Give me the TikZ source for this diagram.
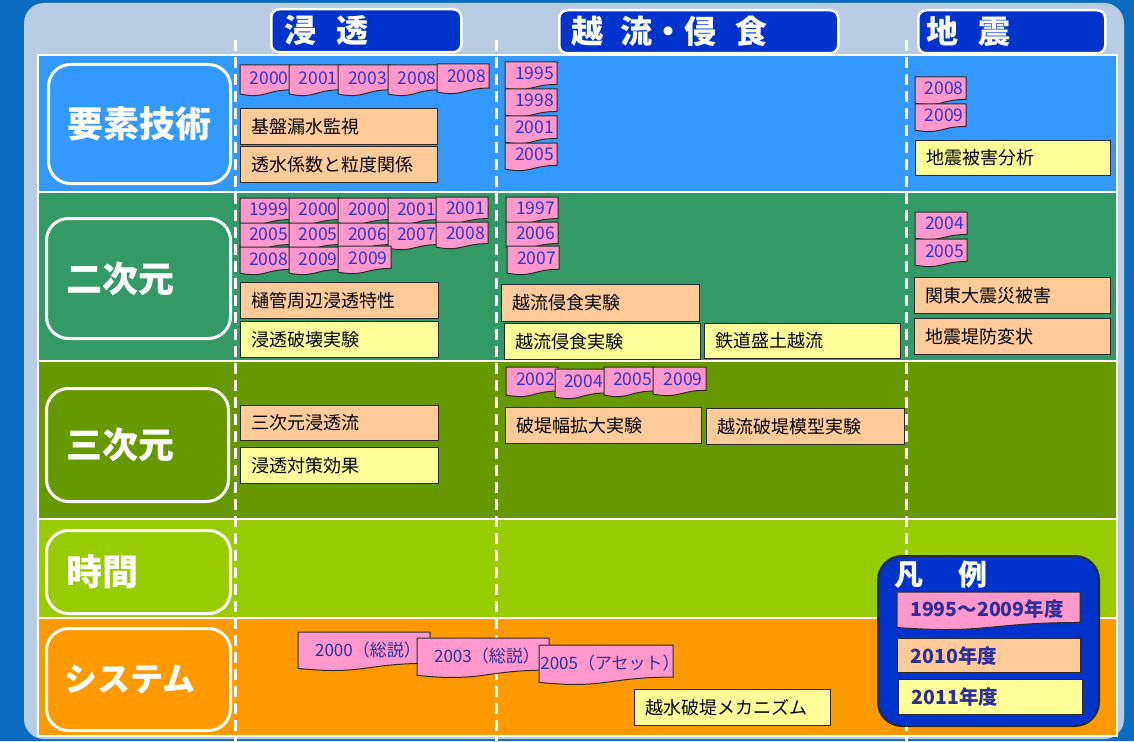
\documentclass[tikz,border=0pt]{standalone}
\usepackage{fontspec}
\setmainfont{Noto Sans CJK JP}
\definecolor{outerblue}{HTML}{0A6CC0}
\definecolor{panel}{HTML}{B8CCE4}
\definecolor{rowA}{HTML}{3399FF}
\definecolor{rowB}{HTML}{339966}
\definecolor{rowC}{HTML}{669900}
\definecolor{rowD}{HTML}{99CC00}
\definecolor{rowE}{HTML}{FF9900}
\definecolor{hdrblue}{HTML}{0033CC}
\definecolor{tagpink}{HTML}{FF99CC}
\definecolor{boxorange}{HTML}{FFCC99}
\definecolor{boxyellow}{HTML}{FFFF99}
\definecolor{boxline}{HTML}{2A2A2A}
\definecolor{tagblue}{HTML}{3333CC}
\definecolor{legtext}{HTML}{2E2E99}
\tikzset{
  rowfill/.style={draw=white, line width=1.2pt},
  hdr/.style={fill=hdrblue, draw=white, line width=2.5pt, rounded corners=8pt, text=white, font=\fontsize{32}{36}\selectfont\bfseries},
  lab/.style={draw=white, line width=3pt, rounded corners=22pt, text=white, font=\fontsize{36}{40}\selectfont\bfseries},
  labsmall/.style={lab, font=\fontsize{33}{36}\selectfont\bfseries},
  obox/.style={fill=boxorange, draw=boxline, line width=1.2pt, text=black, font=\fontsize{18}{20}\selectfont},
  ybox/.style={obox, fill=boxyellow},
  legobox/.style={obox, text=legtext, font=\fontsize{19.5}{22}\selectfont\bfseries},
  legybox/.style={legobox, fill=boxyellow},
  legbox/.style={fill=hdrblue, draw=boxline, line width=2pt, rounded corners=24pt},
  tagshape/.style={fill=tagpink, draw=boxline, line width=1pt},
  yeartext/.style={text=tagblue, font=\fontsize{17.5}{19}\selectfont, inner sep=0pt},
  systext/.style={text=legtext, font=\fontsize{17}{19}\selectfont, inner sep=0pt},
  legtag/.style={text=legtext, font=\fontsize{19.5}{22}\selectfont\bfseries, inner sep=0pt, anchor=west},
  divider/.style={draw=white, line width=3pt, dash pattern=on 11pt off 6pt},
}
% year tag: name, x1, y1, x2, y2, text
\newcommand\ytag[6]{%
  \path[tagshape] (#2,#3) -- (#4,#3) -- (#4,{#3+0.802*(#5-#3)})
    .. controls ({(#2+#4)/2},{#3+0.802*(#5-#3)}) and ({(#2+#4)/2},{#3+1.107*(#5-#3)}) .. (#2,{#3+0.934*(#5-#3)}) -- cycle;
  \node[yeartext] (#1) at ({#2+0.57*(#4-#2)},{#3+0.42*(#5-#3)}) {#6};}
\newcommand\stag[6]{%
  \path[tagshape] (#2,#3) -- (#4,#3) -- (#4,{#3+0.802*(#5-#3)})
    .. controls ({(#2+#4)/2},{#3+0.802*(#5-#3)}) and ({(#2+#4)/2},{#3+1.107*(#5-#3)}) .. (#2,{#3+0.934*(#5-#3)}) -- cycle;
  \node[systext] (#1) at ({#2+0.53*(#4-#2)},{#3+0.46*(#5-#3)}) {#6};}
% box: name, style, pad, x1, y1, x2, y2, text
\newcommand\tbox[8]{%
  \pgfmathsetmacro\mybw{#6-#4}\pgfmathsetmacro\mybh{#7-#5}\pgfmathsetmacro\mytw{#6-#4-2*#3}%
  \node[#2, anchor=north west, minimum width=\mybw pt, minimum height=\mybh pt, text width=\mytw pt, inner xsep=#3pt, inner ysep=0pt, align=left] (#1) at (#4,#5) {#8};}
\begin{document}
\begin{tikzpicture}[x=1pt, y=-1pt]
\useasboundingbox (0,0) rectangle (1134,741);
\fill[outerblue] (0,0) rectangle (1134,741);
\fill[panel, rounded corners=20pt] (24,3) rectangle (1124,739);
% rows
\draw[rowfill, fill=rowA] (38,55) rectangle (1117,192);
\draw[rowfill, fill=rowB] (38,192) rectangle (1117,361);
\draw[rowfill, fill=rowC] (38,361) rectangle (1117,519);
\draw[rowfill, fill=rowD] (38,519) rectangle (1117,618);
\draw[rowfill, fill=rowE] (38,618) rectangle (1117,736);
% dividers
\draw[divider] (235,40) -- (235,741);
\draw[divider] (496,40) -- (496,741);
\draw[divider] (906,40) -- (906,741);
% headers
\tbox{h1}{hdr}{13}{270}{8}{460}{51}{浸\hspace{20pt}透}
\tbox{h2}{hdr}{12}{558}{9}{837}{52}{越\hspace{17pt}流・侵\hspace{19pt}食}
\tbox{h3}{hdr}{8}{917}{9}{1104}{52}{地\hspace{20pt}震}
% row labels
\tbox{l1}{lab}{19}{47}{63}{229}{182}{要素技術}
\tbox{l2}{lab}{20}{45}{217}{229}{337}{二次元}
\tbox{l3}{lab}{20}{45}{387}{227}{500}{三次元}
\tbox{l4}{lab}{20}{45}{529}{229}{612}{時間}
\tbox{l5}{labsmall}{18}{45}{627}{229}{729}{システム}
% row 1
\ytag{a1}{240}{65}{291}{96}{2000}
\ytag{a2}{289}{65}{340}{96}{2001}
\ytag{a3}{338}{65}{390}{96}{2003}
\ytag{a4}{388}{65}{439}{96}{2008}
\ytag{a5}{437}{64}{489}{94}{2008}
\tbox{b11}{obox}{11}{240}{108}{437}{144}{基盤漏水監視}
\tbox{b12}{obox}{11}{240}{146}{437}{182}{透水係数と粒度関係}
\ytag{a6}{505}{62}{557}{90}{1995}
\ytag{a7}{505}{89}{557}{117}{1998}
\ytag{a8}{505}{116}{557}{144}{2001}
\ytag{a9}{505}{143}{557}{171}{2005}
\ytag{a10}{915}{77}{966}{105}{2008}
\ytag{a11}{915}{104}{966}{132}{2009}
\tbox{b13}{ybox}{11}{915}{140}{1110}{175}{地震被害分析}
% row 2
\ytag{c1}{240}{198}{290}{225}{1999}
\ytag{c2}{289}{198}{340}{225}{2000}
\ytag{c3}{338}{198}{390}{225}{2000}
\ytag{c4}{388}{198}{438}{225}{2001}
\ytag{c5}{436}{197}{488}{224}{2001}
\ytag{c6}{240}{223}{290}{250}{2005}
\ytag{c7}{289}{223}{340}{250}{2005}
\ytag{c8}{338}{223}{390}{250}{2006}
\ytag{c9}{388}{223}{438}{250}{2007}
\ytag{c10}{436}{222}{488}{249}{2008}
\ytag{c11}{240}{247}{290}{275}{2008}
\ytag{c12}{289}{247}{340}{275}{2009}
\ytag{c13}{338}{246}{391}{274}{2009}
\tbox{b21}{obox}{11}{240}{282}{438}{318}{樋管周辺浸透特性}
\tbox{b22}{ybox}{11}{240}{321}{438}{357}{浸透破壊実験}
\ytag{c14}{506}{197}{558}{224}{1997}
\ytag{c15}{506}{222}{558}{249}{2006}
\ytag{c16}{507}{246}{559}{275}{2007}
\tbox{b23}{obox}{11}{501}{284}{699}{321}{越流侵食実験}
\tbox{b24}{ybox}{11}{504}{323}{700}{359}{越流侵食実験}
\tbox{b25}{ybox}{11}{704}{323}{900}{358}{鉄道盛土越流}
\ytag{c17}{915}{212}{967}{240}{2004}
\ytag{c18}{915}{239}{967}{267}{2005}
\tbox{b26}{obox}{11}{914}{277}{1110}{313}{関東大震災被害}
\tbox{b27}{obox}{11}{914}{318}{1110}{354}{地震堤防変状}
% row 3
\tbox{b31}{obox}{11}{240}{405}{438}{440}{三次元浸透流}
\tbox{b32}{ybox}{11}{240}{447}{438}{483}{浸透対策効果}
\ytag{d1}{506}{367}{558}{397}{2002}
\ytag{d2}{555}{369}{605}{399}{2004}
\ytag{d3}{604}{367}{654}{397}{2005}
\ytag{d4}{653}{367}{706}{396}{2009}
\tbox{b33}{obox}{11}{505}{407}{701}{443}{破堤幅拡大実験}
\tbox{b34}{obox}{11}{706}{408}{904}{444}{越流破堤模型実験}
% row 5
\stag{e1}{298}{632}{430}{671}{2000（総説）}
\stag{e2}{417}{638}{549}{678}{2003（総説）}
\stag{e3}{539}{645}{673}{685}{2005（アセット）}
\tbox{b51}{ybox}{11}{634}{689}{830}{725}{越水破堤メカニズム}
% legend
\tbox{leg}{legbox}{0}{877}{555}{1098}{725}{}
\node[anchor=west, inner sep=0pt, text=white, font=\fontsize{29}{32}\selectfont\bfseries] (legt) at (894,575) {凡\hspace{35pt}例};
\path[tagshape] (897,592) -- (1080,592) -- (1080,{592+0.802*38})
  .. controls (988,{592+0.802*38}) and (988,{592+1.107*38}) .. (897,{592+0.934*38}) -- cycle;
\node[legtag] (lg1) at (910,609) {1995～2009年度};
\tbox{lg2}{legobox}{13}{897}{638}{1080}{672}{2010年度}
\tbox{lg3}{legybox}{13}{898}{679}{1082}{714}{2011年度}
\end{tikzpicture}
\end{document}
